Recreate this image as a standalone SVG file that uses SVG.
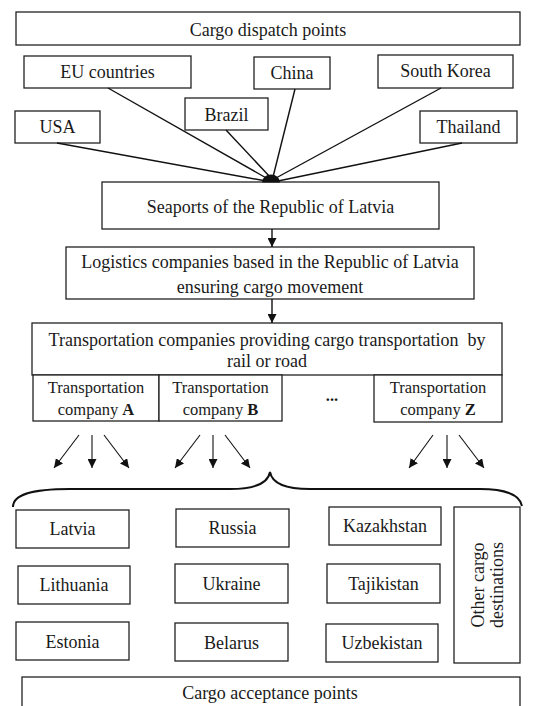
<svg xmlns="http://www.w3.org/2000/svg" width="534" height="706" viewBox="0 0 534 706" font-family="'Liberation Serif', 'DejaVu Serif', 'Times New Roman', serif">
<style>
.box{fill:#fff;stroke:#222;stroke-width:1.3}
text{font-family:'Liberation Serif','DejaVu Serif','Times New Roman',serif;font-size:18px;fill:#1a1a1a;text-anchor:middle}
.sub{font-size:16.5px}
.ln{stroke:#111;stroke-width:1.4;fill:none}
.ar{stroke:#111;stroke-width:1.1;fill:none}
</style>
<defs>
<marker id="ah" viewBox="0 0 10 10" refX="10" refY="5" markerWidth="9" markerHeight="9" markerUnits="userSpaceOnUse" orient="auto">
<path d="M0,0 L10,5 L0,10 Z" fill="#111"/>
</marker>
</defs>
<rect width="534" height="706" fill="#fff"/>

<g id="dispatch"><rect class="box" x="16" y="12" width="504" height="33"/><text x="268" y="36">Cargo dispatch points</text></g>
<g id="eu"><rect class="box" x="24" y="56" width="167" height="32"/><text x="107.5" y="78">EU countries</text></g>
<g id="china"><rect class="box" x="254" y="57" width="76" height="32"/><text x="292" y="79">China</text></g>
<g id="korea"><rect class="box" x="378" y="55" width="135" height="33"/><text x="445.5" y="77">South Korea</text></g>
<g id="brazil"><rect class="box" x="185" y="98" width="83" height="32"/><text x="226.5" y="121">Brazil</text></g>
<g id="usa"><rect class="box" x="15" y="111" width="85" height="32"/><text x="57.5" y="133">USA</text></g>
<g id="thailand"><rect class="box" x="420" y="111" width="97" height="32"/><text x="468.5" y="133">Thailand</text></g>

<g id="seaports"><rect class="box" x="102" y="182" width="337" height="47"/><text x="270.5" y="213">Seaports of the Republic of Latvia</text></g>
<g id="logistics"><rect class="box" x="66" y="247" width="408" height="52"/><text x="270" y="268">Logistics companies based in the Republic of Latvia</text><text x="270" y="293">ensuring cargo movement</text></g>
<g id="transport"><rect class="box" x="32" y="323" width="470" height="52"/><text x="267" y="346" xml:space="preserve">Transportation companies providing cargo transportation  by</text><text x="267" y="367">rail or road</text></g>
<g id="compA"><rect class="box" x="33" y="375" width="126" height="46"/><text class="sub" x="96" y="393">Transportation</text><text class="sub" x="96" y="415">company <tspan font-weight="bold">A</tspan></text></g>
<g id="compB"><rect class="box" x="159" y="375" width="123" height="46"/><text class="sub" x="220.5" y="393">Transportation</text><text class="sub" x="220.5" y="415">company <tspan font-weight="bold">B</tspan></text></g>
<g id="dots"><text class="sub" x="332" y="401" font-weight="bold">...</text></g>
<g id="compZ"><rect class="box" x="374" y="375" width="128" height="47"/><text class="sub" x="438" y="393">Transportation</text><text class="sub" x="438" y="415">company <tspan font-weight="bold">Z</tspan></text></g>

<g id="latvia"><rect class="box" x="16" y="510" width="113" height="38"/><text x="72.5" y="535">Latvia</text></g>
<g id="russia"><rect class="box" x="176" y="509" width="113" height="38"/><text x="232.5" y="534">Russia</text></g>
<g id="kazakhstan"><rect class="box" x="329" y="507" width="112" height="38"/><text x="385" y="532">Kazakhstan</text></g>
<g id="lithuania"><rect class="box" x="18" y="566" width="112" height="38"/><text x="74" y="591">Lithuania</text></g>
<g id="ukraine"><rect class="box" x="175" y="564" width="113" height="39"/><text x="231.5" y="590">Ukraine</text></g>
<g id="tajikistan"><rect class="box" x="327" y="564" width="113" height="39"/><text x="383.5" y="590">Tajikistan</text></g>
<g id="estonia"><rect class="box" x="16" y="622" width="113" height="38"/><text x="72.5" y="648">Estonia</text></g>
<g id="belarus"><rect class="box" x="175" y="623" width="113" height="38"/><text x="231.5" y="649">Belarus</text></g>
<g id="uzbekistan"><rect class="box" x="326" y="624" width="112" height="38"/><text x="382" y="649">Uzbekistan</text></g>
<g id="other"><rect class="box" x="454" y="507" width="66" height="156"/><g transform="translate(487,585) rotate(-90)"><text x="0" y="-3">Other cargo</text><text x="0" y="16">destinations</text></g></g>
<g id="acceptance"><rect class="box" x="22" y="677" width="498" height="32"/><text x="270" y="699">Cargo acceptance points</text></g>

<g id="connectors">
<line class="ln" x1="57" y1="143" x2="266" y2="181"/>
<line class="ln" x1="108" y1="88" x2="268" y2="179"/>
<line class="ln" x1="226" y1="130" x2="271" y2="178"/>
<line class="ln" x1="295" y1="89" x2="273" y2="177"/>
<line class="ln" x1="441" y1="88" x2="276" y2="178"/>
<line class="ln" x1="462" y1="143" x2="278" y2="181"/>
<path d="M262,182.5 A9,8 0 0 1 280,182.5 Z" fill="#111"/>
<line class="ln" x1="272" y1="229" x2="272" y2="247" marker-end="url(#ah)"/>
<line class="ln" x1="272" y1="299" x2="272" y2="323" marker-end="url(#ah)"/>
<line class="ar" x1="79" y1="435" x2="54" y2="468" marker-end="url(#ah)"/>
<line class="ar" x1="92" y1="435" x2="92" y2="468" marker-end="url(#ah)"/>
<line class="ar" x1="104" y1="435" x2="129" y2="468" marker-end="url(#ah)"/>
<line class="ar" x1="200" y1="435" x2="175" y2="468" marker-end="url(#ah)"/>
<line class="ar" x1="213" y1="435" x2="213" y2="468" marker-end="url(#ah)"/>
<line class="ar" x1="225" y1="435" x2="250" y2="468" marker-end="url(#ah)"/>
<line class="ar" x1="433" y1="435" x2="409" y2="468" marker-end="url(#ah)"/>
<line class="ar" x1="447" y1="435" x2="447" y2="468" marker-end="url(#ah)"/>
<line class="ar" x1="459" y1="435" x2="484" y2="468" marker-end="url(#ah)"/>
<path d="M13,507 C13,495 30,489 70,489 L230,489 C255,489 268,483 270,472 C272,483 285,489 310,489 L480,489 C505,489 520,495 522,506" fill="none" stroke="#111" stroke-width="2"/>
</g>
</svg>
